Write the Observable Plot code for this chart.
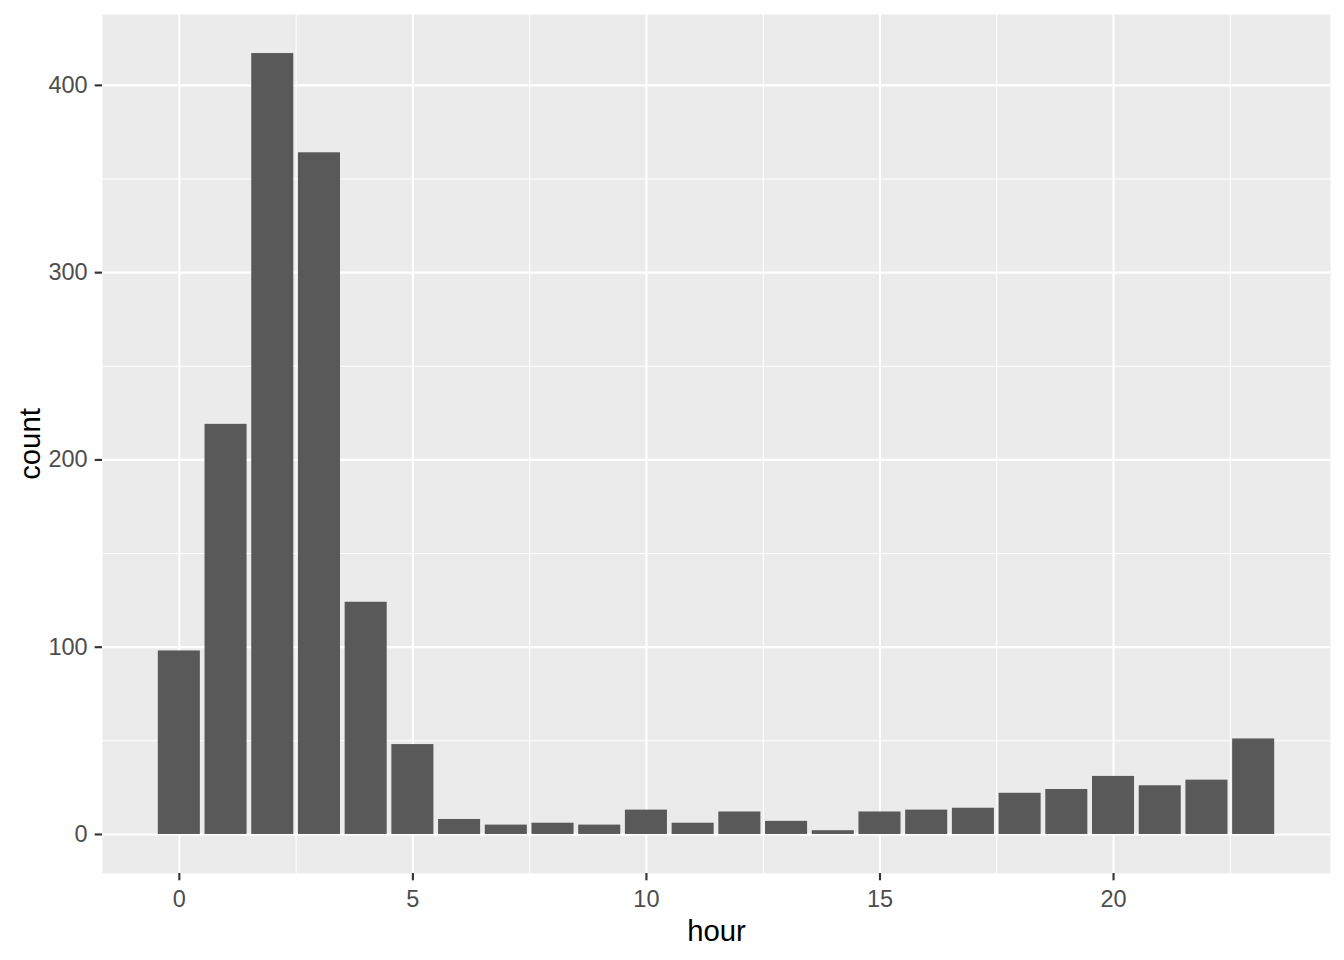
<!DOCTYPE html>
<html>
<head>
<meta charset="utf-8">
<script src="https://cdn.jsdelivr.net/npm/d3@7"></script>
<script src="https://cdn.jsdelivr.net/npm/@observablehq/plot@0.6"></script>
<style>
  html, body { margin: 0; padding: 0; background: #ffffff; }
  #chart svg { display: block; }
</style>
</head>
<body>
<div id="chart"></div>
<script>
const hours = [0,1,2,3,4,5,6,7,8,9,10,11,12,13,14,15,16,17,18,19,20,21,22,23];
const counts = [98,219,417,364,124,48,8,5,6,5,13,6,12,7,2,12,13,14,22,24,31,26,29,51];
const xMajor = [0,5,10,15,20];
const xMinor = [2.5,7.5,12.5,17.5,22.5];
const yMajor = [0,100,200,300,400];
const yMinor = [50,150,250,350];
const xTitle = "hour";
const yTitle = "count";

const data = hours.map((h, i) => ({hour: h, count: counts[i]}));

const barHalf = 0.45;
const xLo = d3.min(hours) - barHalf, xHi = d3.max(hours) + barHalf;
const xPad = (xHi - xLo) * 0.05;
const yLo = 0, yHi = d3.max(counts);
const yPad = (yHi - yLo) * 0.05;

const font = "'Liberation Sans', Arial, Helvetica, sans-serif";

const chart = Plot.plot({
  width: 1344,
  height: 960,
  marginLeft: 102,
  marginRight: 14,
  marginTop: 14,
  marginBottom: 87,
  style: {fontFamily: font, fontSize: "23.5px", background: "#ffffff"},
  x: {domain: [xLo - xPad, xHi + xPad]},
  y: {domain: [yLo - yPad, yHi + yPad]},
  marks: [
    Plot.frame({fill: "#EBEBEB", stroke: null}),
    Plot.ruleX(xMinor, {stroke: "#ffffff", strokeWidth: 1.07}),
    Plot.ruleY(yMinor, {stroke: "#ffffff", strokeWidth: 1.07}),
    Plot.ruleX(xMajor, {stroke: "#ffffff", strokeWidth: 2.13}),
    Plot.ruleY(yMajor, {stroke: "#ffffff", strokeWidth: 2.13}),
    Plot.rectY(data, {
      x1: d => d.hour - barHalf,
      x2: d => d.hour + barHalf,
      y1: 0,
      y2: "count",
      fill: "#595959"
    }),
    Plot.axisX(xMajor, {
      anchor: "bottom",
      tickSize: 7.3,
      tickPadding: 9.5,
      stroke: "#333333",
      strokeWidth: 2.13,
      color: "#4D4D4D",
      fontSize: 23.5,
      fontFamily: font,
      label: null
    }),
    Plot.axisY(yMajor, {
      anchor: "left",
      tickSize: 7.3,
      tickPadding: 7.5,
      stroke: "#333333",
      strokeWidth: 2.13,
      color: "#4D4D4D",
      fontSize: 23.5,
      fontFamily: font,
      label: null
    }),
    Plot.text([xTitle], {
      frameAnchor: "bottom",
      dy: 58,
      lineAnchor: "middle",
      textAnchor: "middle",
      fill: "#000000",
      fontSize: 29.3,
      fontFamily: font
    }),
    Plot.text([yTitle], {
      frameAnchor: "left",
      dx: -72,
      rotate: -90,
      lineAnchor: "middle",
      textAnchor: "middle",
      fill: "#000000",
      fontSize: 29.3,
      fontFamily: font
    })
  ]
});

document.getElementById("chart").appendChild(chart);
</script>
</body>
</html>
